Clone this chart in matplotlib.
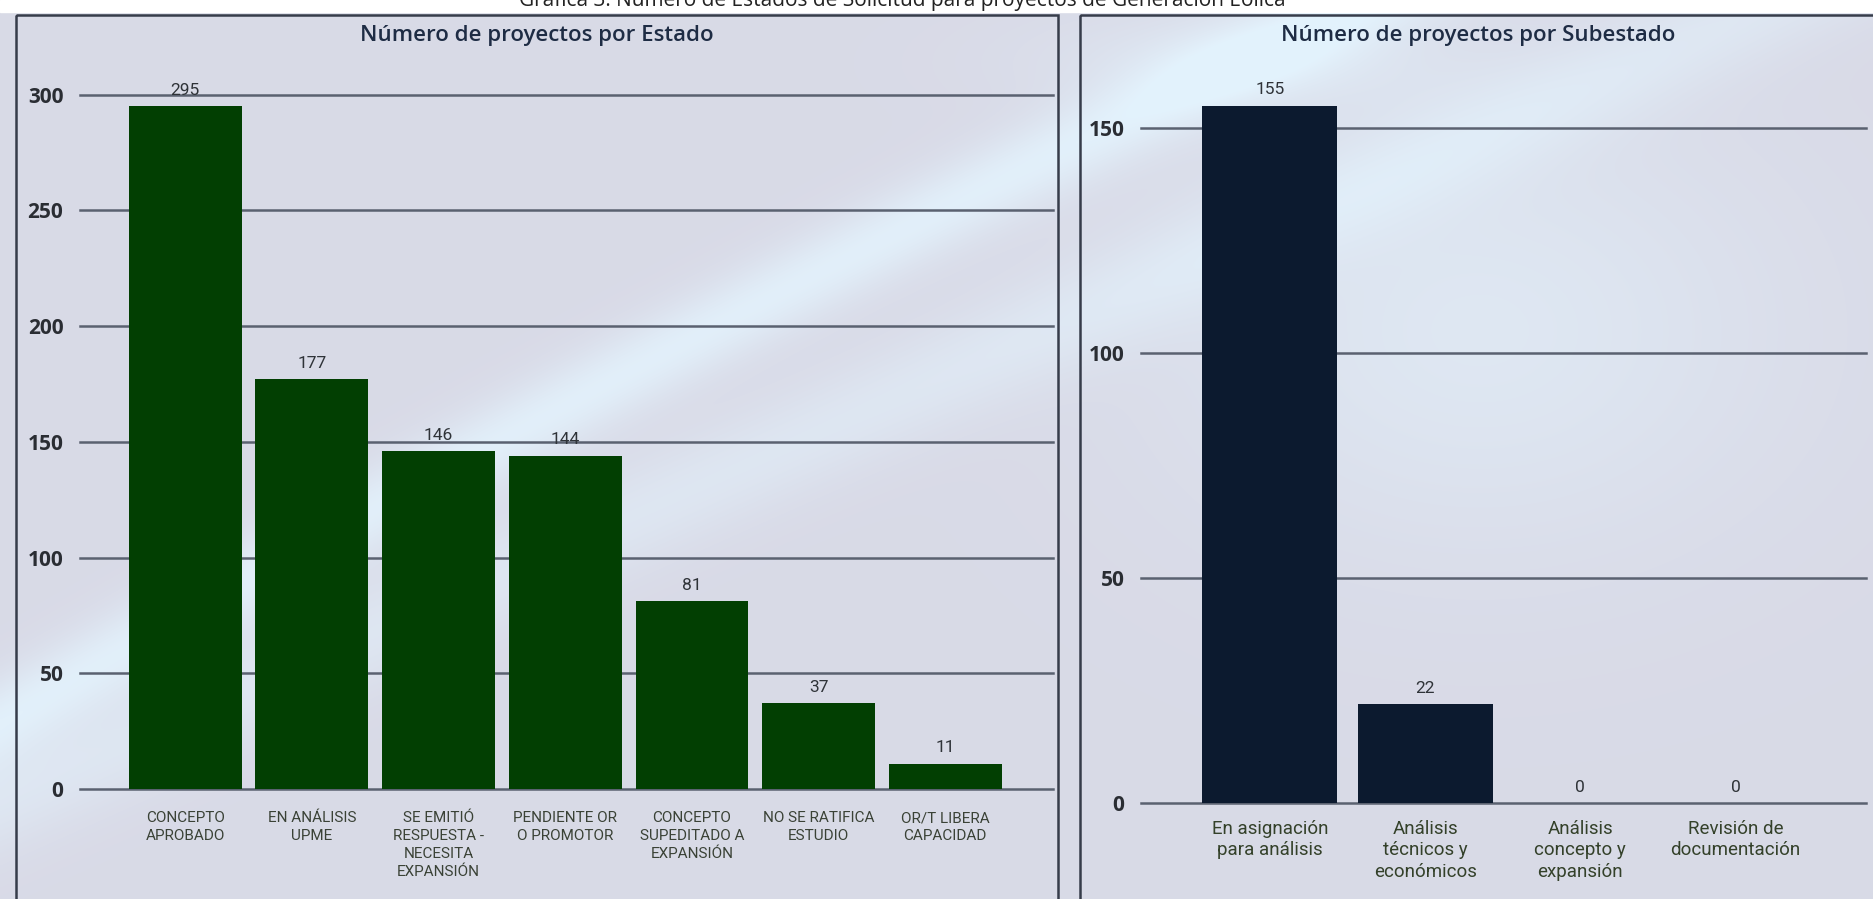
import numpy as np
import matplotlib
matplotlib.use('Agg')
import matplotlib.pyplot as plt
from matplotlib.patches import Rectangle

W, H = 1873, 899
DPI = 100

# data
estados = ["CONCEPTO\nAPROBADO", "EN ANÁLISIS\nUPME",
           "SE EMITIÓ\nRESPUESTA -\nNECESITA\nEXPANSIÓN",
           "PENDIENTE OR\nO PROMOTOR", "CONCEPTO\nSUPEDITADO A\nEXPANSIÓN",
           "NO SE RATIFICA\nESTUDIO", "OR/T LIBERA\nCAPACIDAD"]
estado_vals = [295, 177, 146, 144, 81, 37, 11]
estado_ticks = [0, 50, 100, 150, 200, 250, 300]

subestados = ["En asignación\npara análisis", "Análisis\ntécnicos y\neconómicos",
              "Análisis\nconcepto y\nexpansión", "Revisión de\ndocumentación"]
subestado_vals = [155, 22, 0, 0]
subestado_ticks = [0, 50, 100, 150]

title_top = "Gráfica 3. Número de Estados de Solicitud para proyectos de Generación Eólica"
title_left = "Número de proyectos por Estado"
title_right = "Número de proyectos por Subestado"

GREEN = "#023f02"
NAVY = "#0c1a2f"
GRID = "#5a6170"
NARROW = ["Liberation Sans Narrow", "Roboto", "DejaVu Sans"]


def px_axes(fig, x0, y0, x1, y1):
    return fig.add_axes([x0 / W, 1 - y1 / H, (x1 - x0) / W, (y1 - y0) / H])


fig = plt.figure(figsize=(W / DPI, H / DPI), dpi=DPI)

# background with light streaks
bg = fig.add_axes([0, 0, 1, 1])
yy, xx = np.mgrid[0:H:2, 0:W:2].astype(float)
img = np.ones(xx.shape + (3,))
img[..., 0] *= 0.850
img[..., 1] *= 0.855
img[..., 2] *= 0.905
streak = np.zeros(xx.shape)
c1 = 720 - 0.58 * xx + 0.00004 * xx ** 2
streak += 0.85 * np.exp(-((yy - c1) / 45) ** 2)
c2 = 800 - 0.45 * xx
streak += 0.5 * np.exp(-((yy - c2) / 55) ** 2)
streak += 0.55 * np.exp(-(((xx - 1480) / 300) ** 2 + ((yy - 330) / 220) ** 2))
streak += 0.45 * np.exp(-(((xx - 1250) / 200) ** 2 + ((yy - 60) / 50) ** 2))
streak = np.clip(streak, 0, 1)
light = np.array([0.89, 0.95, 0.99])
img = img * (1 - streak[..., None]) + light * streak[..., None]
bg.imshow(img, extent=[0, W, H, 0], aspect='auto', interpolation='bilinear')
bg.set_xlim(0, W)
bg.set_ylim(H, 0)
bg.axis('off')
bg.add_patch(Rectangle((0, 0), W, 12, color='white', zorder=2))
bg.add_patch(Rectangle((16, 15), 1042, 900, fill=False, ec="#363c4a", lw=1.8, zorder=3))
bg.add_patch(Rectangle((1080, 15), 900, 900, fill=False, ec="#363c4a", lw=1.8, zorder=3))

# page caption, cut by the top edge as in the source
fig.text(902 / W, 1 - 6 / H, title_top, ha='center', va='baseline',
         fontsize=15, family='Open Sans', color='#222222')
fig.text(537 / W, 1 - 36 / H, title_left, ha='center', va='center',
         fontsize=16, family='Open Sans', fontweight='semibold', color='#1e2c44')
fig.text(1478 / W, 1 - 36 / H, title_right, ha='center', va='center',
         fontsize=16, family='Open Sans', fontweight='semibold', color='#1e2c44')


def style(ax, ticks):
    ax.patch.set_alpha(0)
    for s in ax.spines.values():
        s.set_visible(False)
    ax.set_yticks(ticks)
    ax.yaxis.grid(True, color=GRID, lw=1.8)
    for gl in ax.get_ygridlines():
        gl.set_clip_on(False)
    ax.set_axisbelow(True)
    ax.tick_params(axis='both', length=0)
    for lab in ax.get_yticklabels():
        lab.set_fontfamily('Open Sans')
        lab.set_fontweight('bold')
        lab.set_fontsize(15)
        lab.set_color('#2a2d33')


# left chart
ax1 = px_axes(fig, 80, 70, 1053, 789)
x1 = np.arange(len(estados))
b1 = ax1.bar(x1, estado_vals, width=0.89, color=GREEN)
ax1.set_xlim(-0.83, 6.85)
ax1.set_ylim(0, 310.6)
style(ax1, estado_ticks)
ax1.tick_params(axis='y', pad=12)
ax1.tick_params(axis='x', pad=16)
ax1.set_xticks(x1)
ax1.set_xticklabels(estados, family=NARROW, fontsize=11, color='#3a4236',
                    linespacing=1.35, va='top')
ax1.bar_label(b1, padding=6, fontsize=12.5, family=NARROW, color='#2f3338')

# right chart
ax2 = px_axes(fig, 1141, 70, 1866, 803)
x2 = np.arange(len(subestados))
b2 = ax2.bar(x2, subestado_vals, width=0.87, color=NAVY)
ax2.set_xlim(-0.83, 3.84)
ax2.set_ylim(0, 162.9)
style(ax2, subestado_ticks)
ax2.tick_params(axis='y', pad=12)
ax2.tick_params(axis='x', pad=12)
ax2.set_xticks(x2)
ax2.set_xticklabels(subestados, family=NARROW, fontsize=13.5, color='#34412a',
                    linespacing=1.25, va='top')
ax2.bar_label(b2, padding=6, fontsize=12.5, family=NARROW, color='#2f3338')

fig.savefig("out.png", dpi=DPI)
